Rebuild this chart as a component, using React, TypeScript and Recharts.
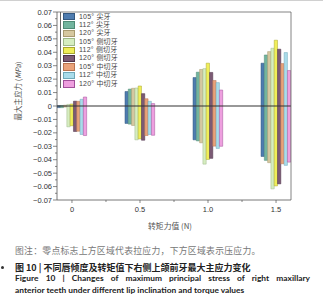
import React from 'react';
import { BarChart, Bar, XAxis, YAxis, ReferenceLine } from 'recharts';

const torque = [0, 0.5, 1.0, 1.5];

const seriesLabels = [
  '105° 尖牙', '112° 尖牙', '120° 尖牙',
  '105° 侧切牙', '112° 侧切牙', '120° 侧切牙',
  '105° 中切牙', '112° 中切牙', '120° 中切牙',
];

// upper end of each bar (tensile), one row per series, one value per torque
const tensile = [
  [0.0003, 0.0108, 0.0212, 0.0319],
  [0.0004, 0.0126, 0.0252, 0.038],
  [0.0006, 0.0132, 0.0272, 0.0405],
  [0.0012, 0.0134, 0.0278, 0.043],
  [0.0015, 0.0149, 0.0319, 0.049],
  [0.0036, 0.0092, 0.025, 0.0423],
  [0.0035, 0.0054, 0.019, 0.0316],
  [0.005, 0.0035, 0.0174, 0.0398],
  [0.0067, 0.0018, 0.0119, 0.0264],
];

// lower end of each bar (compressive)
const compressive = [
  [-0.0012, -0.013, -0.0252, -0.0376],
  [-0.0012, -0.0135, -0.026, -0.0405],
  [-0.0008, -0.0145, -0.0274, -0.0422],
  [-0.0155, -0.0252, -0.0433, -0.0617],
  [-0.0147, -0.0245, -0.0398, -0.0595],
  [-0.019, -0.0255, -0.039, -0.058],
  [-0.0188, -0.022, -0.0299, -0.043],
  [-0.0212, -0.0212, -0.0316, -0.0442],
  [-0.022, -0.0218, -0.03, -0.0418],
];

const yTicks = [
  0.07, 0.065, 0.06, 0.055, 0.05, 0.045, 0.04, 0.035, 0.03, 0.025, 0.02, 0.015, 0.01, 0.005, 0,
  -0.005, -0.01, -0.015, -0.02, -0.025, -0.03, -0.035, -0.04, -0.045, -0.05, -0.055, -0.06, -0.065, -0.07,
];
const xTicks = [0, 0.25, 0.5, 0.75, 1.0, 1.25, 1.5];
const xTickLabels: Record<string, string> = { '0': '0', '0.5': '0.5', '1': '1.0', '1.5': '1.5' };

const fills = ['#4e7cb0', '#72b49e', '#d6c8a0', '#d6edc0', '#f0ee58', '#7b5a74', '#e9a27a', '#a9dcea', '#ee9fdf'];
const strokes = ['#34587f', '#4f8a75', '#a89a70', '#9fb88a', '#a8a630', '#4e3349', '#b87450', '#6fa8b8', '#a0509a'];

const rows = torque.map((t, i) => {
  const r: Record<string, any> = { torque: t };
  seriesLabels.forEach((_, s) => {
    r['s' + s] = [compressive[s][i], tensile[s][i]];
  });
  return r;
});

const tickFont = { fontFamily: 'Liberation Sans, Arial, sans-serif', fontSize: 7.5, fill: '#333' };

const isMajor = (v: number) => Math.abs(v * 100 - Math.round(v * 100)) < 1e-6;
const fmtY = (v: number) => (Math.abs(v) < 1e-9 ? '0' : (v < 0 ? '\u2212' : '') + Math.abs(v).toFixed(2));

const YTick = (p: any) => {
  const v = p.payload.value;
  const ax = p.x + 5;
  const major = isMajor(v);
  return (
    <g>
      <line x1={ax - (major ? 4 : 2)} x2={ax} y1={p.y} y2={p.y} stroke="#555" strokeWidth={0.7} />
      {major && (
        <text x={p.x} y={p.y} dy={2.6} textAnchor="end" {...tickFont}>{fmtY(v)}</text>
      )}
    </g>
  );
};

const XTick = (p: any) => {
  const v = p.payload.value;
  const ay = p.y - 5;
  const label = xTickLabels[String(v)];
  return (
    <g>
      <line x1={p.x} x2={p.x} y1={ay} y2={ay + (label ? 3 : 2)} stroke="#555" strokeWidth={0.7} />
      {label && (
        <text x={p.x} y={p.y} dy={7} textAnchor="middle" {...tickFont}>{label}</text>
      )}
    </g>
  );
};

const cjk = '"Noto Sans CJK SC", "Noto Sans", sans-serif';
// Latin primary font keeps the text boxes compact; CJK glyphs fall back to Noto
const legendFont = '"Liberation Sans", "Noto Sans CJK SC", sans-serif';

export default function App() {
  return (
    <div style={{ position: 'absolute', left: 0, top: 0, width: 323, height: 300, background: '#fff', overflow: 'hidden' }}>
      <div style={{ position: 'absolute', left: 0, top: 0, width: 323, height: 1, background: '#d0d0d0' }} />
      <BarChart
        width={323}
        height={300}
        data={rows}
        margin={{ top: 12, right: 32, left: 12, bottom: 70 }}
        barGap={0}
        barSize={3.3}
      >
        <XAxis
          dataKey="torque"
          type="number"
          domain={[-0.11, 1.61]}
          ticks={xTicks}
          tickLine={false}
          tickSize={4}
          tickMargin={1}
          tick={<XTick />}
          axisLine={{ stroke: '#555', strokeWidth: 0.8 }}
          height={30}
          allowDataOverflow
        />
        <YAxis
          type="number"
          domain={[-0.07, 0.07]}
          ticks={yTicks}
          interval={0}
          tickLine={false}
          tickSize={4}
          tickMargin={1}
          tick={<YTick />}
          axisLine={{ stroke: '#555', strokeWidth: 0.8 }}
          width={45}
          allowDataOverflow
        />
        {seriesLabels.map((name, s) => (
          <Bar
            key={name}
            dataKey={'s' + s}
            name={name}
            fill={fills[s]}
            stroke={strokes[s]}
            strokeWidth={0.5}
            isAnimationActive={false}
          />
        ))}
        <ReferenceLine y={0} stroke="#333" strokeWidth={1.2} />
        <ReferenceLine y={0.07} stroke="#666" strokeWidth={0.8} />
        <ReferenceLine x={1.61} stroke="#666" strokeWidth={0.8} />
      </BarChart>

      {/* legend */}
      <div style={{ position: 'absolute', left: 60, top: 12, height: 76, borderLeft: '1px solid #666', paddingLeft: 2 }}>
        {seriesLabels.map((name, s) => (
          <div key={name} style={{ display: 'flex', alignItems: 'center', height: 8.4, lineHeight: '8.4px', fontSize: 7, fontFamily: legendFont, marginTop: s === 0 ? 0.5 : 0 }}>
            <span style={{ display: 'inline-block', width: 10, height: 5.5, background: fills[s], border: '0.6px solid ' + strokes[s], marginRight: 4 }} />
            <span style={{ fontFamily: legendFont, fontSize: 7, color: '#444', whiteSpace: 'nowrap', lineHeight: '8.4px', letterSpacing: 0.2 }}>{name}</span>
          </div>
        ))}
      </div>

      {/* axis titles */}
      <div style={{ position: 'absolute', left: 17, top: 91, transform: 'translate(-50%, -50%) rotate(-90deg)', fontFamily: cjk, fontSize: 7.5, color: '#555', whiteSpace: 'nowrap' }}>
        最大主应力 (<i>MPa</i>)
      </div>
      <div style={{ position: 'absolute', left: 170, top: 225, transform: 'translate(-50%, -50%)', fontFamily: cjk, fontSize: 7.8, color: '#555', whiteSpace: 'nowrap' }}>
        转矩力值 (N)
      </div>

      {/* caption */}
      <div style={{ position: 'absolute', left: 15, top: 244, fontFamily: cjk, fontSize: 8.8, color: '#777', whiteSpace: 'nowrap', letterSpacing: 0.3 }}>
        图注：零点标志上方区域代表拉应力，下方区域表示压应力。
      </div>
      <div style={{ position: 'absolute', left: 1, top: 266, width: 3, height: 3, borderRadius: 2, background: '#333' }} />
      <div style={{ position: 'absolute', left: 15, top: 261, fontFamily: cjk, fontSize: 9, fontWeight: 700, color: '#222', whiteSpace: 'nowrap' }}>
        图 10 | 不同唇倾度及转矩值下右侧上颌前牙最大主应力变化
      </div>
      <div style={{ position: 'absolute', left: 15, top: 273, width: 295, fontFamily: 'Lato, "Open Sans", sans-serif', fontSize: 8.4, fontWeight: 700, color: '#222', whiteSpace: 'nowrap', textAlign: 'justify', textAlignLast: 'justify' as any, lineHeight: '11px' }}>
        Figure 10 | Changes of maximum principal stress of right maxillary
      </div>
      <div style={{ position: 'absolute', left: 15, top: 285, fontFamily: 'Lato, "Open Sans", sans-serif', fontSize: 8.4, fontWeight: 700, color: '#222', whiteSpace: 'nowrap', lineHeight: '11px' }}>
        anterior teeth under different lip inclination and torque values
      </div>
    </div>
  );
}
